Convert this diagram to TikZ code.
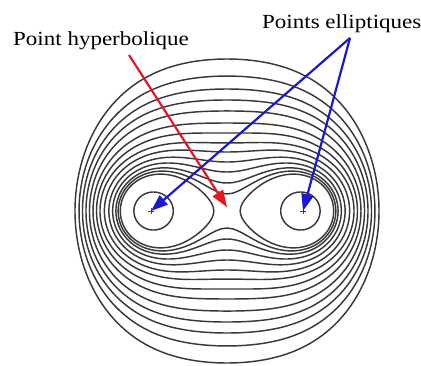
\documentclass[tikz,border=0pt]{standalone}
\usepackage{fontspec}
\setmainfont{Liberation Serif}
\usetikzlibrary{arrows.meta}
\definecolor{redarrow}{RGB}{225,25,35}
\definecolor{bluearrow}{RGB}{25,25,205}
\tikzset{
  contour/.style={line width=1.45pt, draw=black!78, line join=round},
  lbl/.style={inner sep=0pt, font=\fontsize{20}{24}\selectfont},
  redarr/.style={draw=redarrow, fill=redarrow, line width=2.2pt, -{Triangle[length=17pt,width=12pt]}},
  bluearr/.style={draw=bluearrow, fill=bluearrow, line width=2.2pt, -{Triangle[length=17pt,width=12pt]}},
  pmark/.style={line width=0.7pt, draw=black!75}
}
% outer Cassini-type curve: #1 = (b/a)^2, #2 = vertical stretch
\newcommand{\outercurve}[2]{%
  \draw[contour] plot[domain=0:360,samples=361,variable=\t]
    ({sqrt(sqrt(#1*#1+2*#1*cos(2*\t)+1))*cos(\t+0.5*atan(-sin(2*\t)/(#1+cos(2*\t))))},
     {#2*sqrt(sqrt(#1*#1+2*#1*cos(2*\t)+1))*sin(\t+0.5*atan(-sin(2*\t)/(#1+cos(2*\t))))}) -- cycle;}
% inner oval around one focus: #1 = (b/a)^2, #2 = side (1 or -1)
\newcommand{\innercurve}[2]{%
  \draw[contour] plot[domain=0:360,samples=721,variable=\t]
    ({#2*sqrt(sqrt(1+2*#1*cos(\t)+#1*#1))*cos(0.5*atan(#1*sin(\t)/(1+#1*cos(\t))))},
     {sqrt(sqrt(1+2*#1*cos(\t)+#1*#1))*sin(0.5*atan(#1*sin(\t)/(1+#1*cos(\t))))}) -- cycle;}
\begin{document}
\begin{tikzpicture}[x=1pt,y=-1pt]
\useasboundingbox (0,0) rectangle (421,365);
\begin{scope}[shift={(227pt,-211pt)},x=76pt,y=76pt]
  \outercurve{1.0500}{1}
  \outercurve{1.1357}{1}
  \outercurve{1.2633}{1}
  \outercurve{1.4157}{1}
  \outercurve{1.6027}{1}
  \outercurve{1.7935}{1.005}
  \outercurve{1.948}{1.054}
  \outercurve{2.108}{1.10}
  \outercurve{2.2745}{1.166}
  \outercurve{2.443}{1.216}
  \outercurve{2.6155}{1.263}
  \outercurve{2.7906}{1.327}
  \outercurve{3.0007}{1.414}
  \innercurve{0.5}{1}
  \innercurve{0.97}{1}
  \innercurve{0.5}{-1}
  \innercurve{0.97}{-1}
  \coordinate (E1) at (-1,0);
  \coordinate (E2) at (1,0);
  \coordinate (S) at (0,0.05);
\end{scope}
\draw[pmark] ([xshift=-3pt]E1) -- ([xshift=3pt]E1) ([yshift=-3pt]E1) -- ([yshift=3pt]E1);
\draw[pmark] ([xshift=-3pt]E2) -- ([xshift=3pt]E2) ([yshift=-3pt]E2) -- ([yshift=3pt]E2);
\node[lbl, anchor=base west] (PH) at (13,45) {\scalebox{1.15}[1]{Point hyperbolique}};
\node[lbl, anchor=base west] (PE) at (262,28.3) {\scalebox{1.15}[1]{Points elliptiques}};
\coordinate (R) at (129,55);
\coordinate (A) at (350,38);
\draw[redarr] (R) -- (S);
\draw[bluearr] (A) -- (E1);
\draw[bluearr] (A) -- (E2);
\end{tikzpicture}
\end{document}
